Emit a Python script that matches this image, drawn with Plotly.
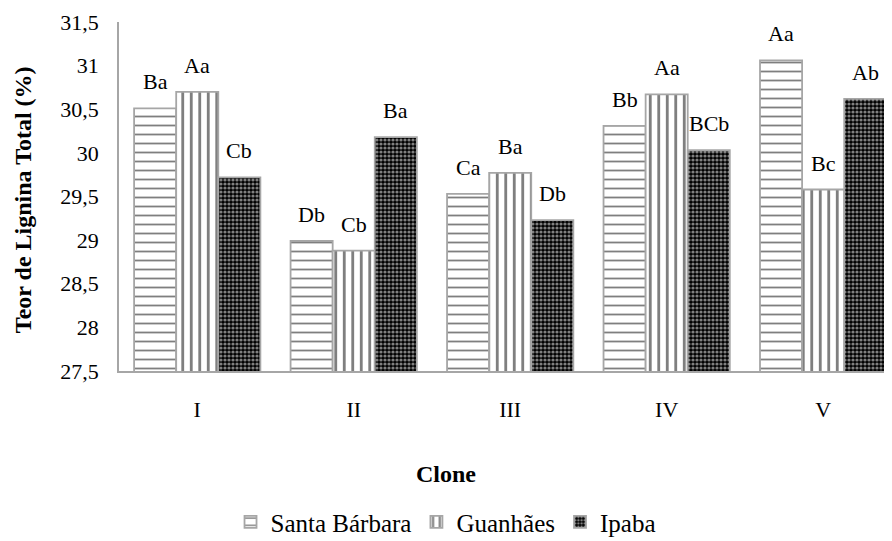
import plotly.graph_objects as go

clones = ["I", "II", "III", "IV", "V"]
series_names = ["Santa Bárbara", "Guanhães", "Ipaba"]
santa_barbara = [30.51, 28.99, 29.53, 30.31, 31.06]
guanhaes = [30.70, 28.88, 29.77, 30.67, 29.58]
ipaba = [29.72, 30.18, 29.23, 30.03, 30.62]
labels_sb = ["Ba", "Db", "Ca", "Bb", "Aa"]
labels_gu = ["Aa", "Cb", "Ba", "Aa", "Bc"]
labels_ip = ["Cb", "Ba", "Db", "BCb", "Ab"]
y_tick_values = [27.5, 28, 28.5, 29, 29.5, 30, 30.5, 31, 31.5]
y_tick_labels = ["27,5", "28", "28,5", "29", "29,5", "30", "30,5", "31", "31,5"]

FONT = "'Liberation Serif', 'Times New Roman', serif"
values = [santa_barbara, guanhaes, ipaba]
labels = [labels_sb, labels_gu, labels_ip]
patterns = [
    dict(shape="-", fgcolor="black", bgcolor="white", size=9, solidity=0.2),
    dict(shape="|", fgcolor="black", bgcolor="white", size=8.5, solidity=0.33),
    dict(shape=".", fgcolor="white", bgcolor="black", size=4, solidity=0.5),
]
bw = 0.269
offsets = [-1.5 * bw, -0.5 * bw, 0.5 * bw]
xs = list(range(len(clones)))

fig = go.Figure()
annotations = []
for name, vals, lab, pat, off in zip(series_names, values, labels, patterns, offsets):
    fig.add_trace(go.Bar(
        name=name, x=xs, y=vals, width=bw, offset=off,
        marker=dict(color="white", pattern=pat,
                    line=dict(color="#A6A6A6", width=1.8)),
    ))
    for xi, v, t in zip(xs, vals, lab):
        annotations.append(dict(
            x=xi + off + bw / 2, y=v, xref="x", yref="y", text=t,
            showarrow=False, yanchor="bottom", yshift=12,
            font=dict(family=FONT, size=22, color="black"),
        ))

annotations.append(dict(
    x=0.423, y=-0.295, xref="paper", yref="paper", text="<b>Clone</b>",
    showarrow=False, xanchor="center", yanchor="middle",
    font=dict(family=FONT, size=24, color="black"),
))
annotations.append(dict(
    x=-0.124, y=0.49, xref="paper", yref="paper",
    text="<b>Teor de Lignina Total (%)</b>", textangle=-90,
    showarrow=False, xanchor="center", yanchor="middle",
    font=dict(family=FONT, size=24, color="black"),
))

fig.update_layout(
    width=884, height=533,
    margin=dict(l=111, r=0, t=14, b=170, autoexpand=False),
    paper_bgcolor="white", plot_bgcolor="white",
    barmode="overlay",
    font=dict(family=FONT, size=22, color="black"),
    showlegend=True,
    legend=dict(orientation="h", xref="container", yref="container",
                x=0.4955, y=0.0356, xanchor="center", yanchor="middle",
                font=dict(family=FONT, size=25, color="black")),
    annotations=annotations,
)
fig.update_xaxes(
    range=[-0.5, 4.44], tickvals=xs, ticktext=clones,
    showline=True, linecolor="#A6A6A6", linewidth=1.8,
    showgrid=False, zeroline=False, automargin=False,
    ticks="outside", ticklen=18, tickcolor="rgba(0,0,0,0)",
    tickfont=dict(family=FONT, size=22, color="black"),
)
fig.update_yaxes(
    range=[27.5, 31.5], tickvals=y_tick_values, ticktext=y_tick_labels,
    showline=True, linecolor="#A6A6A6", linewidth=1.8,
    showgrid=False, zeroline=False, automargin=False,
    ticks="outside", ticklen=14, tickcolor="rgba(0,0,0,0)",
    tickfont=dict(family=FONT, size=22, color="black"),
)
fig.write_html("out.html")
